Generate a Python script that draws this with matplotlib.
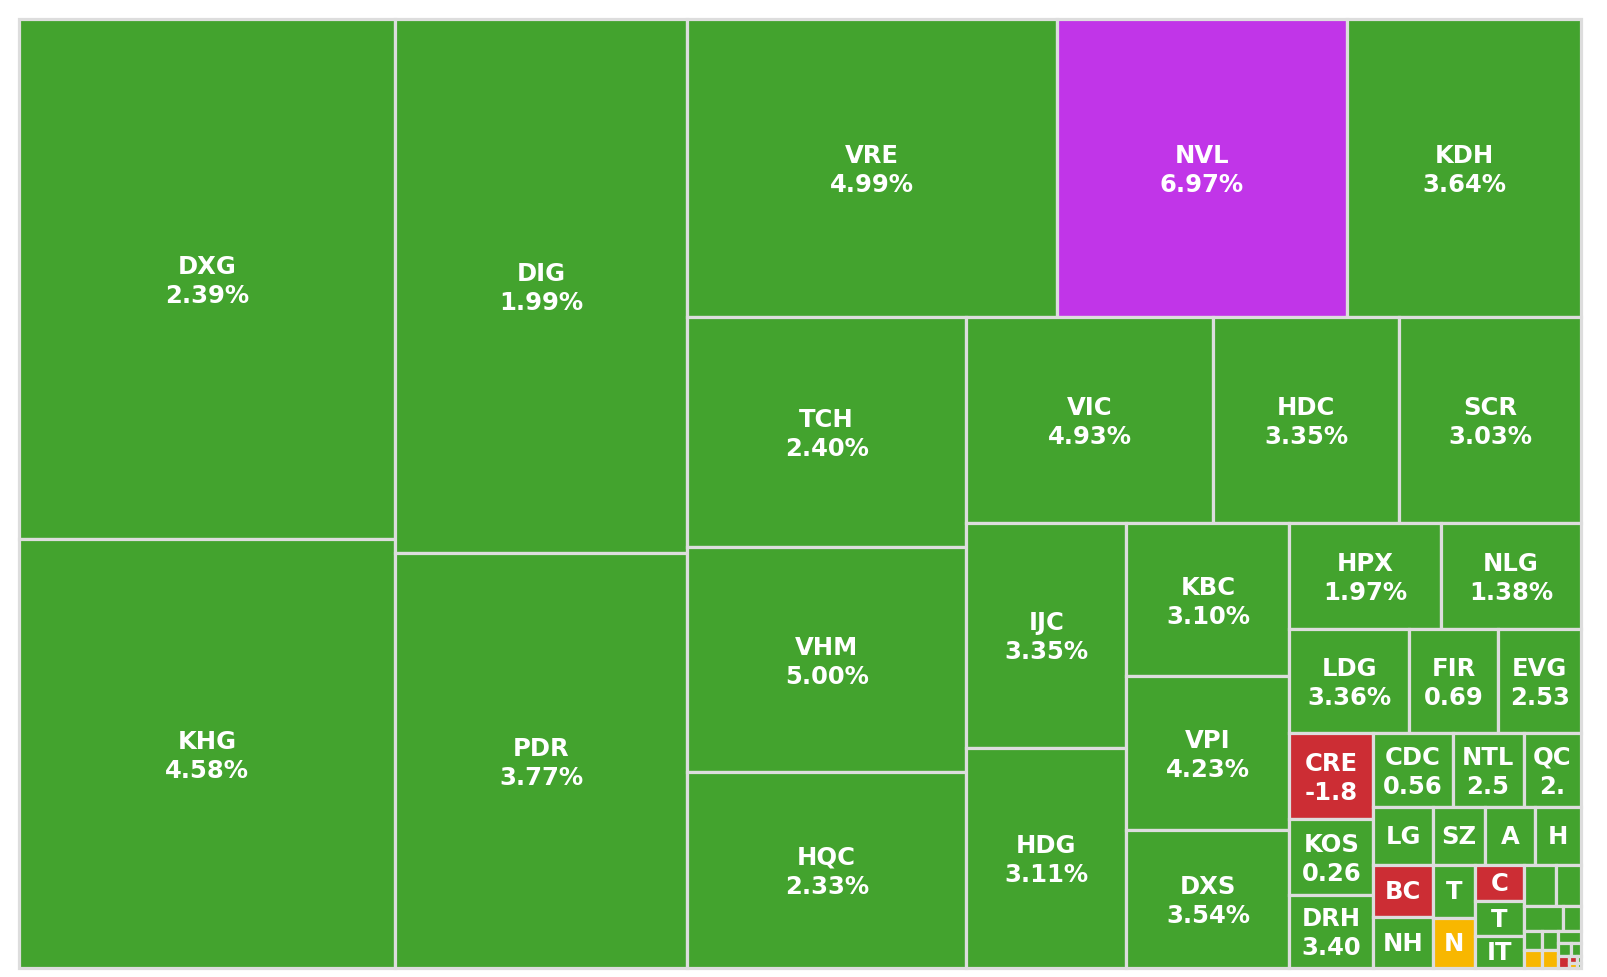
import matplotlib
matplotlib.use("Agg")
import matplotlib.pyplot as plt
from matplotlib.patches import Rectangle
from matplotlib.transforms import offset_copy

# treemap data: label shown, change shown, size value, price state
names = ["DXG", "KHG", "DIG", "PDR", "VRE", "NVL", "KDH", "TCH", "VHM", "HQC",
         "VIC", "HDC", "SCR", "IJC", "HDG", "KBC", "VPI", "DXS", "HPX", "NLG",
         "LDG", "FIR", "EVG", "CRE", "KOS", "DRH", "CDC", "NTL", "QC", "LG",
         "BC", "NH", "SZ", "A", "H", "T", "N", "C", "T", "IT",
         "", "", "", "", "", "", "", "", "", "",
         "", "", "", "", "", ""]
changes = ["2.39%", "4.58%", "1.99%", "3.77%", "4.99%", "6.97%", "3.64%", "2.40%", "5.00%", "2.33%",
           "4.93%", "3.35%", "3.03%", "3.35%", "3.11%", "3.10%", "4.23%", "3.54%", "1.97%", "1.38%",
           "3.36%", "0.69", "2.53", "-1.8", "0.26", "3.40", "0.56", "2.5", "2.", "",
           "", "", "", "", "", "", "", "", "", "",
           "", "", "", "", "", "", "", "", "", "",
           "", "", "", "", "", ""]
values = [1955.2, 1613.0, 1559.3, 1211.8, 1101.7, 864.2, 697.3, 642.9, 627.5, 547.8,
          508.1, 381.6, 374.4, 360.8, 352.0, 250.7, 250.5, 224.6, 162.0, 149.2,
          124.2, 92.1, 85.5, 72.2, 63.8, 61.3, 58.8, 52.5, 42.6, 34.5,
          31.5, 30.6, 29.6, 29.0, 26.5, 22.5, 21.0, 17.5, 16.8, 15.4,
          13.4, 10.1, 10.0, 4.5, 3.7, 3.3, 3.1, 2.8, 2.7, 1.7,
          1.4, 1.25, 0.5, 0.4, 0.3, 0.2]
states = ["up", "up", "up", "up", "up", "ceil", "up", "up", "up", "up",
          "up", "up", "up", "up", "up", "up", "up", "up", "up", "up",
          "up", "up", "up", "down", "up", "up", "up", "up", "up", "up",
          "down", "up", "up", "up", "up", "up", "ref", "down", "up", "up",
          "up", "up", "up", "up", "up", "ref", "up", "ref", "up", "up",
          "up", "down", "down", "ref", "up", "up"]

state_colors = {"up": "#43a32e", "ceil": "#c135e8", "down": "#cc2d34", "ref": "#f8b700"}


def aspect(w, h):
    return max(w / h, h / w)


def squarify(vals, x, y, w, h):
    # strips along the short side, grow while the newest cell gets squarer
    total = sum(vals)
    areas = [v * w * h / total for v in vals]
    rects = []
    i = 0
    while i < len(areas):
        short = min(w, h)
        row = [areas[i]]
        score = aspect(short, areas[i] / short)
        j = i + 1
        while j < len(areas):
            t = (sum(row) + areas[j]) / short
            new = aspect(t, areas[j] / t)
            if new > score:
                break
            row.append(areas[j])
            score = new
            j += 1
        t = sum(row) / short
        pos = 0
        for a in row:
            l = a / t
            if w < h:
                rects.append((x + pos, y, l, t))
            else:
                rects.append((x, y + pos, t, l))
            pos += l
        if w < h:
            y += t
            h -= t
        else:
            x += t
            w -= t
        i = j
    return rects


fig = plt.figure(figsize=(16.07, 9.77), dpi=100)
ax = fig.add_axes([19 / 1607, 9 / 977, 1562 / 1607, 949 / 977])
ax.axis("off")

bbox = ax.get_window_extent()
W, H = bbox.width, bbox.height
ax.set_xlim(0, W)
ax.set_ylim(H, 0)

rects = squarify(values, 0, 0, W, H)

line1 = offset_copy(ax.transData, fig=fig, x=0, y=5, units="dots")
line2 = offset_copy(ax.transData, fig=fig, x=0, y=-24, units="dots")
single = offset_copy(ax.transData, fig=fig, x=0, y=-8, units="dots")

for (x, y, w, h), name, chg, st in zip(rects, names, changes, states):
    patch = Rectangle((x, y), w, h, facecolor=state_colors[st], edgecolor="#dddddd",
                      linewidth=2.3, clip_on=False)
    ax.add_patch(patch)
    cx, cy = x + w / 2, y + h / 2
    style = dict(ha="center", va="baseline", color="white", fontsize=17.5,
                 fontweight="bold", family="DejaVu Sans")
    if name and chg:
        t1 = ax.text(cx, cy, name, transform=line1, **style)
        t2 = ax.text(cx, cy, chg, transform=line2, **style)
        t1.set_clip_path(patch)
        t2.set_clip_path(patch)
    elif name:
        t1 = ax.text(cx, cy, name, transform=single, **style)
        t1.set_clip_path(patch)

fig.savefig("out.png", dpi=100)
